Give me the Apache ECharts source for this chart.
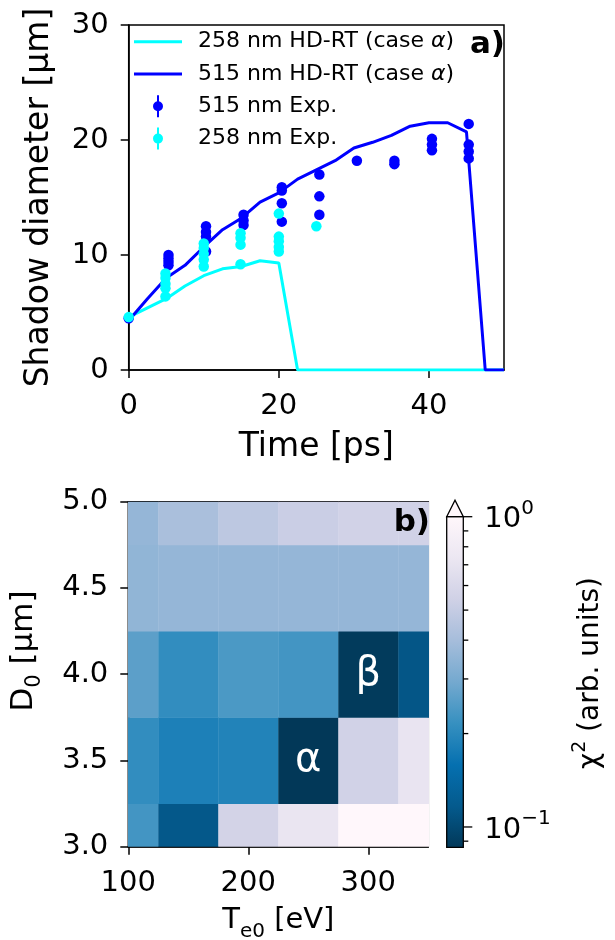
<!DOCTYPE html>
<html><head><meta charset="utf-8">
<script src="https://cdn.jsdelivr.net/npm/echarts@6/dist/echarts.min.js"></script>
<style>html,body{margin:0;padding:0;background:#fff}#c{width:615px;height:940px}</style>
</head><body><div id="c"></div>
<script>
const FONT = 'DejaVu Sans';

// ---------- Panel a) : shadow diameter vs time ----------
const simTime = [0, 2.5, 5, 7.5, 10, 12.5, 15, 17.5, 20, 22.5, 25, 27.5, 30, 32.5, 35, 37.5, 40, 42.5, 45, 47.5, 50];
const sim258 = [4.6, 5.4, 6.2, 7.3, 8.2, 8.8, 9.0, 9.5, 9.3, 0, 0, 0, 0, 0, 0, 0, 0, 0, 0, 0, 0];
const sim515 = [4.3, 6.2, 8.0, 9.1, 10.7, 12.2, 13.2, 14.6, 15.4, 16.6, 17.4, 18.2, 19.3, 19.8, 20.4, 21.2, 21.5, 21.5, 20.7, 0, 0];

const exp515Time = [0, 5.3, 5.3, 5.3, 5.3, 10.3, 10.3, 10.3, 10.3, 15.3, 15.3, 15.3, 20.4, 20.4, 20.4, 20.4, 25.4, 25.4, 25.4, 30.4, 35.4, 35.4, 40.4, 40.4, 40.4, 45.3, 45.3, 45.3, 45.3];
const exp515Diam = [4.5, 10.0, 9.7, 9.4, 9.1, 12.5, 12.0, 11.6, 10.3, 13.5, 13.0, 12.6, 15.9, 15.6, 14.5, 12.9, 17.0, 15.1, 13.5, 18.2, 18.2, 17.9, 20.1, 19.6, 19.1, 21.4, 19.6, 19.0, 18.4];

const exp258Time = [0, 4.9, 4.9, 4.9, 4.9, 4.9, 10, 10, 10, 10, 10, 14.9, 14.9, 14.9, 14.9, 20, 20, 20, 20, 20, 25];
const exp258Diam = [4.6, 8.4, 8.0, 7.5, 7.1, 6.4, 11.0, 10.6, 10.1, 9.6, 9.0, 11.9, 11.5, 10.9, 9.2, 13.6, 11.6, 11.2, 10.7, 10.3, 12.5];

const timeTicks = [0, 20, 40];
const seriesNames = ['258 nm HD-RT (case α)', '515 nm HD-RT (case α)', '515 nm Exp.', '258 nm Exp.'];

// ---------- Panel b) : chi^2 map ----------
const te0Values = [100, 150, 200, 250, 300, 350];
const d0Values = [3.0, 3.5, 4.0, 4.5, 5.0];
const chi2Row30 = [0.23, 0.115, 0.56, 0.72, 1.0, 1.0];
const chi2Row35 = [0.21, 0.185, 0.19, 0.086, 0.55, 0.71];
const chi2Row40 = [0.26, 0.21, 0.24, 0.23, 0.088, 0.113];
const chi2Row45 = [0.35, 0.36, 0.36, 0.36, 0.36, 0.36];
const chi2Row50 = [0.36, 0.41, 0.47, 0.52, 0.55, 0.55];
const chi2Rows = [chi2Row30, chi2Row35, chi2Row40, chi2Row45, chi2Row50];
const te0Ticks = [100, 200, 300];

const caseLabels = ['α', 'β'];
const caseTe0 = [250, 300];
const caseD0 = [3.5, 4.0];

const chi2Min = 0.086, chi2Max = 1.0;
const cbarMajor = [0.1, 1];
const cbarMinor = [0.09, 0.2, 0.3, 0.4, 0.5, 0.6, 0.7, 0.8, 0.9];
const pubuR = ['#023858', '#045a8d', '#0570b0', '#3690c0', '#74a9cf', '#a6bddb', '#d0d1e6', '#ece7f2', '#fff7fb'];

// ---------- build ----------
const heatData = [];
d0Values.forEach((d0, i) => te0Values.forEach((te, j) => heatData.push([te, d0, Math.log10(chi2Rows[i][j])])));
const caseData = caseTe0.map((t, i) => [t, caseD0[i]]);
const tickData = cbarMajor.map(v => [1, v, 1]).concat(cbarMinor.map(v => [1, v, 0]));

const axLine = { show: true, lineStyle: { color: '#000', width: 1.5 } };
const axTick = { show: true, inside: false, length: 8, lineStyle: { color: '#000', width: 1.5 } };
const axLab = { color: '#000', fontFamily: FONT, fontSize: 29 };

const linePath = 'path://M0,0L48,0L48,3L0,3Z';
const errPath = 'path://M4,0H6V22H4Z M5,6A5,5 0 1 1 5,16A5,5 0 1 1 5,6Z';

const chart = echarts.init(document.getElementById('c'), null, { renderer: 'canvas', width: 615, height: 940 });

const option = {
  backgroundColor: '#fff',
  animation: false,
  grid: [
    { left: 128.7, top: 25, width: 375.3, height: 345, show: true, borderColor: '#000', borderWidth: 1.5, backgroundColor: 'transparent' },
    { left: 128.3, top: 501.7, width: 300, height: 345, show: true, borderColor: '#000', borderWidth: 1.5, backgroundColor: 'transparent' },
    { left: 446.7, top: 516.7, width: 16.6, height: 330.6, show: false }
  ],
  xAxis: [
    { gridIndex: 0, type: 'value', min: 0, max: 50, interval: 20, axisLine: axLine,
      axisTick: Object.assign({ customValues: timeTicks }, axTick),
      axisLabel: Object.assign({ customValues: timeTicks, margin: 22 }, axLab),
      splitLine: { show: false } },
    { gridIndex: 1, type: 'value', min: 100, max: 350, interval: 100, axisLine: axLine,
      axisTick: Object.assign({ customValues: te0Ticks }, axTick),
      axisLabel: Object.assign({ customValues: te0Ticks, margin: 22 }, axLab),
      splitLine: { show: false } },
    { gridIndex: 2, type: 'value', min: 0, max: 1, show: false }
  ],
  yAxis: [
    { gridIndex: 0, type: 'value', min: 0, max: 30, interval: 10, axisLine: axLine, axisTick: axTick,
      axisLabel: Object.assign({ margin: 20 }, axLab), splitLine: { show: false } },
    { gridIndex: 1, type: 'value', min: 3, max: 5, interval: 0.5, axisLine: axLine, axisTick: axTick,
      axisLabel: Object.assign({ margin: 20, formatter: v => v.toFixed(1) }, axLab), splitLine: { show: false } },
    { gridIndex: 2, type: 'log', logBase: 10, min: chi2Min, max: chi2Max, show: false }
  ],
  visualMap: {
    show: false, type: 'continuous', seriesIndex: 4, dimension: 2,
    min: Math.log10(chi2Min), max: Math.log10(chi2Max),
    inRange: { color: pubuR }
  },
  legend: {
    orient: 'vertical', left: 134, top: 30.7, padding: 0, itemGap: 10.3, itemWidth: 48, itemHeight: 22,
    selectedMode: false,
    itemStyle: { borderWidth: 0 },
    textStyle: { fontFamily: FONT, fontSize: 22, color: '#000', padding: [0, 0, 0, 11], lineHeight: 22,
      rich: { i: { fontFamily: FONT, fontStyle: 'italic', fontSize: 22, lineHeight: 22, color: '#000' } } },
    formatter: n => n.replace('α', '{i|α}'),
    data: [
      { name: seriesNames[0], icon: linePath },
      { name: seriesNames[1], icon: linePath },
      { name: seriesNames[2], icon: errPath },
      { name: seriesNames[3], icon: errPath }
    ]
  },
  series: [
    { name: seriesNames[0], type: 'line', xAxisIndex: 0, yAxisIndex: 0, symbol: 'none',
      color: '#00ffff', itemStyle: { color: '#00ffff' }, lineStyle: { color: '#00ffff', width: 3 },
      data: simTime.map((t, i) => [t, sim258[i]]), z: 2 },
    { name: seriesNames[1], type: 'line', xAxisIndex: 0, yAxisIndex: 0, symbol: 'none',
      color: '#0000ff', itemStyle: { color: '#0000ff' }, lineStyle: { color: '#0000ff', width: 3 },
      data: simTime.map((t, i) => [t, sim515[i]]), z: 3 },
    { name: seriesNames[2], type: 'scatter', xAxisIndex: 0, yAxisIndex: 0, symbol: 'circle', symbolSize: 10.5,
      color: '#0000ff', itemStyle: { color: '#0000ff', opacity: 1 },
      data: exp515Time.map((t, i) => [t, exp515Diam[i]]), z: 4 },
    { name: seriesNames[3], type: 'scatter', xAxisIndex: 0, yAxisIndex: 0, symbol: 'circle', symbolSize: 10.5,
      color: '#00ffff', itemStyle: { color: '#00ffff', opacity: 1 },
      data: exp258Time.map((t, i) => [t, exp258Diam[i]]), z: 5 },
    { type: 'custom', xAxisIndex: 1, yAxisIndex: 1, clip: true, data: heatData, z: 1,
      renderItem: (params, api) => {
        const te = api.value(0), d0 = api.value(1);
        const hx = (te0Values[1] - te0Values[0]) / 2, hy = (d0Values[1] - d0Values[0]) / 2;
        const p0 = api.coord([te - hx, d0 + hy]);
        const p1 = api.coord([te + hx, d0 - hy]);
        return { type: 'rect', shape: { x: p0[0], y: p0[1], width: p1[0] - p0[0] + 0.4, height: p1[1] - p0[1] + 0.4 },
          style: { fill: api.visual('color') } };
      } },
    { type: 'custom', xAxisIndex: 1, yAxisIndex: 1, data: caseData, z: 6,
      renderItem: (params, api) => {
        const p = api.coord([api.value(0), api.value(1)]);
        return { type: 'text', x: p[0], y: p[1],
          style: { text: caseLabels[params.dataIndex], fill: '#fff', fontFamily: FONT, fontSize: 40, align: 'center', verticalAlign: 'middle' } };
      } },
    { type: 'custom', xAxisIndex: 2, yAxisIndex: 2, data: [[0.5, chi2Min]], z: 5, clip: false,
      renderItem: (params, api) => {
        const cs = params.coordSys;
        const stops = pubuR.map((c, i) => ({ offset: i / (pubuR.length - 1), color: c }));
        const tipH = 0.05 * cs.height;
        return { type: 'group', children: [
          { type: 'rect', shape: { x: cs.x, y: cs.y, width: cs.width, height: cs.height },
            style: { fill: new echarts.graphic.LinearGradient(0, 1, 0, 0, stops), stroke: '#000', lineWidth: 1.3 } },
          { type: 'polygon', shape: { points: [[cs.x, cs.y], [cs.x + cs.width / 2, cs.y - tipH], [cs.x + cs.width, cs.y]] },
            style: { fill: pubuR[pubuR.length - 1], stroke: '#000', lineWidth: 1.3 } }
        ] };
      } },
    { type: 'custom', xAxisIndex: 2, yAxisIndex: 2, data: tickData, z: 6, clip: false,
      renderItem: (params, api) => {
        const v = api.value(1), major = api.value(2) === 1;
        const p = api.coord([1, v]);
        const children = [{ type: 'line', shape: { x1: p[0], y1: p[1], x2: p[0] + (major ? 9 : 5), y2: p[1] },
          style: { stroke: '#000', lineWidth: 1.3 } }];
        if (major) {
          const e = Math.round(Math.log10(v));
          const es = e < 0 ? '\u2212' + Math.abs(e) : String(e);
          children.push({ type: 'text', x: p[0] + 21, y: p[1] + 3,
            style: { text: '{m|10}{s|' + es + '}', align: 'left', verticalAlign: 'middle',
              rich: { m: { fontFamily: FONT, fontSize: 29, lineHeight: 42, verticalAlign: 'middle', fill: '#000', color: '#000' },
                      s: { fontFamily: FONT, fontSize: 20, lineHeight: 20, verticalAlign: 'top', fill: '#000', color: '#000' } } } });
        }
        return { type: 'group', children };
      } }
  ],
  graphic: [
    { type: 'text', x: 39, y: 197.5, rotation: Math.PI / 2, z: 100,
      style: { text: 'Shadow diameter [µm]', font: '33px "DejaVu Sans"', fill: '#000', align: 'center', verticalAlign: 'middle' } },
    { type: 'text', x: 316.3, y: 447, z: 100,
      style: { text: 'Time [ps]', font: '33px "DejaVu Sans"', fill: '#000', align: 'center', verticalAlign: 'middle' } },
    { type: 'text', x: 505, y: 45, z: 100,
      style: { text: 'a)', font: 'bold 31px "DejaVu Sans"', fill: '#000', align: 'right', verticalAlign: 'middle' } },
    { type: 'text', x: 430, y: 523, z: 100,
      style: { text: 'b)', font: 'bold 31px "DejaVu Sans"', fill: '#000', align: 'right', verticalAlign: 'middle' } },
    { type: 'text', x: 23.5, y: 651, rotation: Math.PI / 2, z: 100,
      style: { text: '{m|D}{s|0}{m| [µm]}', align: 'center', verticalAlign: 'middle',
        rich: { m: { fontFamily: FONT, fontSize: 31, lineHeight: 44, verticalAlign: 'middle', fill: '#000' },
                s: { fontFamily: FONT, fontSize: 21, lineHeight: 21, verticalAlign: 'bottom', fill: '#000' } } } },
    { type: 'text', x: 278.3, y: 920.5, z: 100,
      style: { text: '{m|T}{s|e0}{m| [eV]}', align: 'center', verticalAlign: 'middle',
        rich: { m: { fontFamily: FONT, fontSize: 29, lineHeight: 42, verticalAlign: 'middle', fill: '#000' },
                s: { fontFamily: FONT, fontSize: 20, lineHeight: 20, verticalAlign: 'bottom', fill: '#000' } } } },
    { type: 'text', x: 591, y: 673, rotation: Math.PI / 2, z: 100,
      style: { text: '{m|χ}{s|2}{m| (arb. units)}', align: 'center', verticalAlign: 'middle',
        rich: { m: { fontFamily: FONT, fontSize: 28, lineHeight: 40, verticalAlign: 'middle', fill: '#000' },
                s: { fontFamily: FONT, fontSize: 19, lineHeight: 19, verticalAlign: 'top', fill: '#000' } } } }
  ]
};
chart.setOption(option);
</script>
</body></html>
